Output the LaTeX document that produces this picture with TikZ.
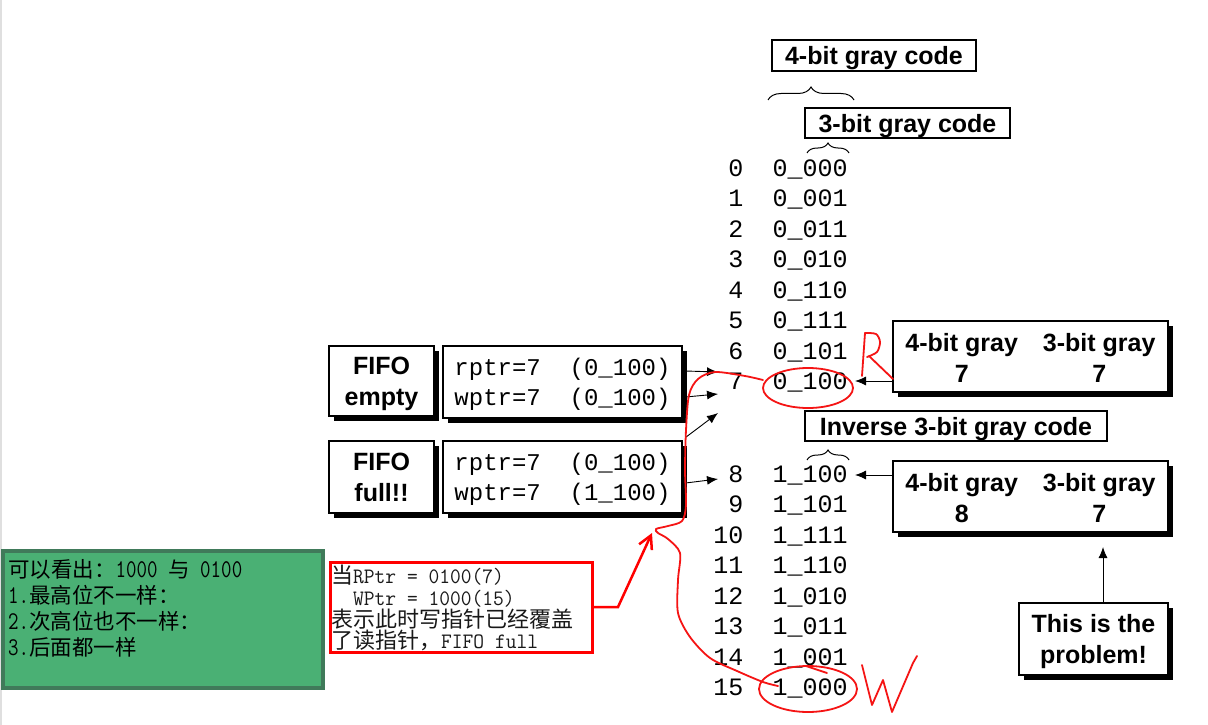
\documentclass[tikz,border=0pt]{standalone}
\usepackage{fontspec}
\newfontfamily\arial{Liberation Sans}
\newfontfamily\cour{Liberation Mono}
\newfontfamily\cjk{Noto Sans CJK SC}
\newfontfamily\lmt{Latin Modern Mono}[FakeStretch=0.8]
\newfontfamily\lmtr{Latin Modern Mono}[FakeStretch=0.95]
\usetikzlibrary{arrows.meta,shadows,decorations.pathreplacing}
\definecolor{greenfill}{RGB}{74,176,116}
\definecolor{greenborder}{RGB}{64,122,90}
\definecolor{penred}{RGB}{245,20,20}
\begin{document}
\begin{tikzpicture}[x=1pt,y=-1pt,
  bfont/.style={font=\arial\bfseries\fontsize{25}{31}\selectfont},
  plainbox/.style={draw,line width=1.1pt,fill=white,inner sep=0pt,bfont,align=center,text depth=-3pt},
  shadowbox/.style={plainbox,drop shadow={shadow xshift=4.5pt,shadow yshift=-4.5pt,opacity=1,fill=black}},
  mono/.style={font=\cour\fontsize{25}{30}\selectfont,inner sep=0pt},
  ptrtext/.style={font=\cour\fontsize{24}{29.5}\selectfont,align=left},
  arr/.style={line width=0.9pt,-{Latex[length=11pt,width=9pt]}},
  pen/.style={draw=penred,line width=1.8pt,line cap=round,line join=round},
  brc/.style={decorate,decoration={brace,amplitude=#1},line width=1pt},
  gline/.style={anchor=base west,inner sep=0pt,font=\cjk\fontsize{21.5}{26}\selectfont},
  rline/.style={anchor=base west,inner sep=0pt,text=black!90,font=\cjk\fontsize{22}{22}\selectfont},
]
\useasboundingbox (0,0) rectangle (1208,725);
\fill[white] (0,0) rectangle (1208,725);
\draw[gray!25,line width=2pt] (1,0) -- (1,725);

% headers
\node[plainbox,minimum width=204pt,minimum height=31pt] (h4) at (874,55.5) {4-bit gray code};
\draw[brc=13pt] (768,100) -- (854,100);
\node[plainbox,minimum width=205pt,minimum height=30pt] (h3) at (907.5,123) {3-bit gray code};
\draw[brc=10pt] (807,153) -- (849,153);

% rows
\foreach \num/\code in {0/0\_000,1/0\_001,2/0\_011,3/0\_010,4/0\_110,5/0\_111,6/0\_101,7/0\_100,
  8/1\_100,9/1\_101,10/1\_111,11/1\_110,12/1\_010,13/1\_011,14/1\_001,15/1\_000}{
  \pgfmathsetmacro\yy{\num<8 ? 176+30.57*\num : 482+30.57*(\num-8)}
  \node[mono,anchor=base east] (n\num) at (743.5,\yy) {\num};
  \node[mono,anchor=base west] (c\num) at (772.5,\yy) {\code};
}

% FIFO boxes
\node[shadowbox,minimum width=105pt,minimum height=70pt] (fe) at (381.5,381) {FIFO\\empty};
\node[shadowbox,ptrtext,minimum width=239pt,minimum height=72pt] (p1) at (562.5,382) {rptr=7~~(0\_100)\\wptr=7~~(0\_100)};
\node[shadowbox,minimum width=105pt,minimum height=72pt] (ff) at (381.5,477) {FIFO\\full!!};
\node[shadowbox,ptrtext,minimum width=239pt,minimum height=72pt] (p2) at (562.5,477) {rptr=7~~(0\_100)\\wptr=7~~(1\_100)};

\coordinate (t1) at (718,372);
\coordinate (t2) at (718,394);
\coordinate (t3) at (718,413);
\coordinate (t4) at (718,479);
\draw[arr] ([yshift=11pt,xshift=3pt]p1.east) -- (t1);
\draw[arr] ([yshift=-15pt,xshift=3pt]p1.east) -- (t2);
\draw[arr] ([xshift=3pt,yshift=3pt]p2.north east) -- (t3);
\draw[arr] ([yshift=-6pt,xshift=3pt]p2.east) -- (t4);

% right boxes
\node[shadowbox,text depth={},minimum width=275pt,minimum height=71pt] (r1) at (1030.5,356.5)
  {\raisebox{-4pt}[\height][\depth]{\begin{tabular}{@{}c@{\hspace{25pt}}c@{}}4-bit gray & 3-bit gray\\ 7 & 7\end{tabular}}};
\coordinate (s1) at (855,381);
\draw[arr] ([yshift=-24.5pt]r1.west) -- (s1);

\node[plainbox,minimum width=302pt,minimum height=30pt] (inv) at (956,426) {Inverse 3-bit gray code};
\draw[brc=10pt] (807,460) -- (849,460);

\node[shadowbox,text depth={},minimum width=275pt,minimum height=71pt] (r2) at (1030.5,496.5)
  {\raisebox{-4pt}[\height][\depth]{\begin{tabular}{@{}c@{\hspace{25pt}}c@{}}4-bit gray & 3-bit gray\\ 8 & 7\end{tabular}}};
\coordinate (s2) at (855,475);
\draw[arr] ([yshift=21.5pt]r2.west) -- (s2);

\node[shadowbox,minimum width=149pt,minimum height=72pt] (prob) at (1093.5,639) {This is the\\problem!};
\coordinate (s3) at (1103,547);
\draw[arr] ([xshift=9.5pt]prob.north) -- (s3);

% green note
\node[draw=greenborder,line width=3.5pt,fill=greenfill,minimum width=320pt,minimum height=137pt,inner sep=0pt] (gb) at (163,619.5) {};
\node[gline] (g1) at (8,577) {可以看出：{\lmt\fontsize{25.5}{26}\selectfont 1000 }与{\lmt\fontsize{25.5}{26}\selectfont\ 0100}};
\node[gline] (g2) at (8,603.5) {{\lmt\fontsize{25.5}{26}\selectfont 1.}最高位不一样：};
\node[gline] (g3) at (8,629.5) {{\lmt\fontsize{25.5}{26}\selectfont 2.}次高位也不一样：};
\node[gline] (g4) at (8,655) {{\lmt\fontsize{25.5}{26}\selectfont 3.}后面都一样};

% red note
\node[draw=red,line width=3pt,fill=white,minimum width=262pt,minimum height=90pt,inner sep=0pt] (rb) at (461,607) {};
\node[rline] (rl1) at (331,583.5) {当{\lmtr\fontsize{22}{22}\selectfont RPtr = 0100(7)}};
\node[rline] (rl2) at (331,605) {{\lmtr\fontsize{22}{22}\selectfont\hspace*{22pt}WPtr = 1000(15)}};
\node[rline] (rl3) at (331,627) {表示此时写指针已经覆盖};
\node[rline] (rl4) at (331,648.5) {了读指针，{\lmtr\fontsize{22}{22}\selectfont FIFO full}};
\coordinate (rtip) at (652,533);
\draw[red,line width=2.5pt,line join=miter,-{Straight Barb[length=13pt,width=14pt,line width=2.5pt]}] (rb.east) -- (618,607) -- (rtip);

% freehand red marks
\draw[pen] (808,388) ellipse [x radius=45, y radius=20];
\draw[pen] (808,689) ellipse [x radius=49, y radius=23];
\draw[pen] (806,666) -- (827,673);
\draw[pen] plot[smooth,tension=0.5] coordinates {(763,380) (745,376) (715,372) (698,379) (689,395) (686,430) (685,470) (686,505) (682,521) (668,526) (656,529) (658,533) (668,539) (680,553) (678,580) (678,613) (690,637) (710,658) (737,671) (763,682) (778,686)};
% R
\draw[pen] (865,333) -- (862,376);
\draw[pen] plot[smooth] coordinates {(865,333) (876,334) (880,342) (877,352) (867,357)};
\draw[pen] (869,356) -- (893,379);
% W
\draw[pen] (862,665) -- (872,705) -- (883,680) -- (892,712) -- (913,663) -- (917,656);
\end{tikzpicture}
\end{document}
